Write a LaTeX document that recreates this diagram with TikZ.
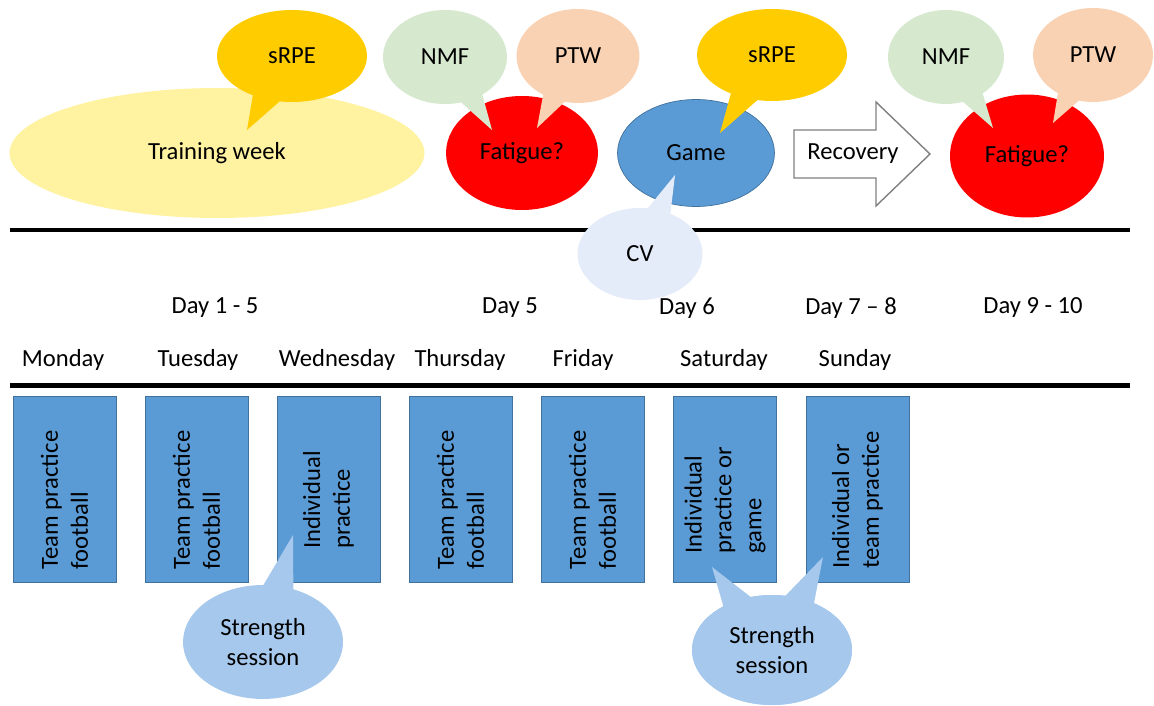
\documentclass[tikz,border=0pt]{standalone}
\usepackage{fontspec}
\setmainfont{Carlito}
\usepackage{xcolor}
\usepackage{tikz}
\usetikzlibrary{shapes.geometric,shapes.callouts}

\definecolor{weekyellow}{HTML}{FFF2A1}
\definecolor{rpegold}{HTML}{FFCC00}
\definecolor{nmfgreen}{HTML}{D6E9CE}
\definecolor{ptwpeach}{HTML}{F9D2B4}
\definecolor{dayblue}{HTML}{5B9BD5}
\definecolor{dayedge}{HTML}{41719C}
\definecolor{cvblue}{HTML}{E3ECF8}
\definecolor{gymblue}{HTML}{A5C8EC}

\tikzset{
  txt/.style={font=\fontsize{14}{17}\selectfont},
  bubble/.style={ellipse callout, txt, fill=#1, inner sep=0pt, callout pointer arc=22},
  blob/.style={ellipse, txt, fill=#1, inner sep=0pt},
  daybox/.style={draw=dayedge, fill=dayblue, minimum width=2.06cm, minimum height=3.72cm},
  daytxt/.style={txt, rotate=90, align=left},
  rule/.style={line width=1mm}
}

\begin{document}
\begin{tikzpicture}[x=0.02cm, y=-0.02cm]
    \useasboundingbox (0,0) rectangle (1154,706);
    \node[blob=weekyellow, minimum width=8.3cm, minimum height=2.6cm] (week) at (217,153) {Training week};
    \coordinate (p1) at (247,130);
    \node[bubble=rpegold, callout absolute pointer=(p1), minimum width=3cm, minimum height=1.84cm] (rpe1) at (292,56) {sRPE};
    \node[blob=red, minimum width=3.04cm, minimum height=2.28cm] (fat1) at (522,153) {Fatigue?};
    \coordinate (p2) at (492,130);
    \coordinate (p3) at (537,128);
    \node[bubble=nmfgreen, callout absolute pointer=(p2), minimum width=2.48cm, minimum height=1.88cm] (nmf1) at (445,57) {NMF};
    \node[bubble=ptwpeach, callout absolute pointer=(p3), minimum width=2.46cm, minimum height=1.88cm] (ptw1) at (578,56) {PTW};
    \node[blob=dayblue, draw=dayedge, minimum width=3.14cm, minimum height=2.14cm] (game) at (696,153) {Game};
    \coordinate (p4) at (720,133);
    \node[bubble=rpegold, callout absolute pointer=(p4), minimum width=3cm, minimum height=1.84cm] (rpe2) at (772,55) {sRPE};
    \draw[draw=black!50, fill=white, line width=0.8pt] (794,130) -- (876,130) -- (876,102) -- (930,154) -- (876,206) -- (876,178) -- (794,178) -- cycle;
    \node[txt] (rec) at (853,154) {Recovery};
    \node[blob=red, minimum width=3.08cm, minimum height=2.46cm] (fat2) at (1027,156) {Fatigue?};
    \coordinate (p5) at (993,128);
    \coordinate (p6) at (1053,123);
    \node[bubble=nmfgreen, callout absolute pointer=(p5), minimum width=2.32cm, minimum height=1.88cm] (nmf2) at (946,57) {NMF};
    \node[bubble=ptwpeach, callout absolute pointer=(p6), minimum width=2.4cm, minimum height=1.88cm] (ptw2) at (1093,55) {PTW};
    \coordinate (r1a) at (10,230);
    \coordinate (r1b) at (1130,230);
    \draw[rule] (r1a) -- (r1b);
    \coordinate (p7) at (675,175);
    \node[bubble=cvblue, callout absolute pointer=(p7), minimum width=2.5cm, minimum height=1.84cm] (cv) at (640,254) {CV};
    \node[txt] (d1) at (215,308) {Day 1 - 5};
    \node[txt] (d5) at (510,308) {Day 5};
    \node[txt] (d6) at (687,308) {Day 6};
    \node[txt] (d7) at (851,308) {Day 7 – 8};
    \node[txt] (d9) at (1033,308) {Day 9 - 10};
    \foreach \d/\x in {Monday/63, Tuesday/198, Wednesday/337, Thursday/460, Friday/583, Saturday/724, Sunday/855}
        \node[txt] (\d) at (\x,360) {\d};
    \coordinate (r2a) at (10,385);
    \coordinate (r2b) at (1130,385);
    \draw[rule] (r2a) -- (r2b);
    \foreach \i/\x/\t in {1/64.5/{Team practice\\football}, 2/196.5/{Team practice\\football}, 3/328.5/{Individual\\practice}, 4/460.5/{Team practice\\football}, 5/592.5/{Team practice\\football}, 6/725/{Individual\\practice or\\game}, 7/857.5/{Individual or\\team practice}} {
        \node[daybox] (box\i) at (\x,489) {};
        \node[daytxt] (lab\i) at (\x,500) {\t};
    }
    \coordinate (p8) at (293,535);
    \node[bubble=gymblue, callout absolute pointer=(p8), minimum width=3.2cm, minimum height=2.28cm, align=center] (gym1) at (263,642) {Strength\\session};
    \coordinate (p9) at (823,557);
    \coordinate (p10) at (712,567);
    \node[bubble=gymblue, callout absolute pointer=(p9), minimum width=3.2cm, minimum height=2.2cm] (gym2b) at (772,650) {};
    \node[bubble=gymblue, callout absolute pointer=(p10), minimum width=3.2cm, minimum height=2.2cm, align=center] (gym2) at (772,650) {Strength\\session};
\end{tikzpicture}
\end{document}
